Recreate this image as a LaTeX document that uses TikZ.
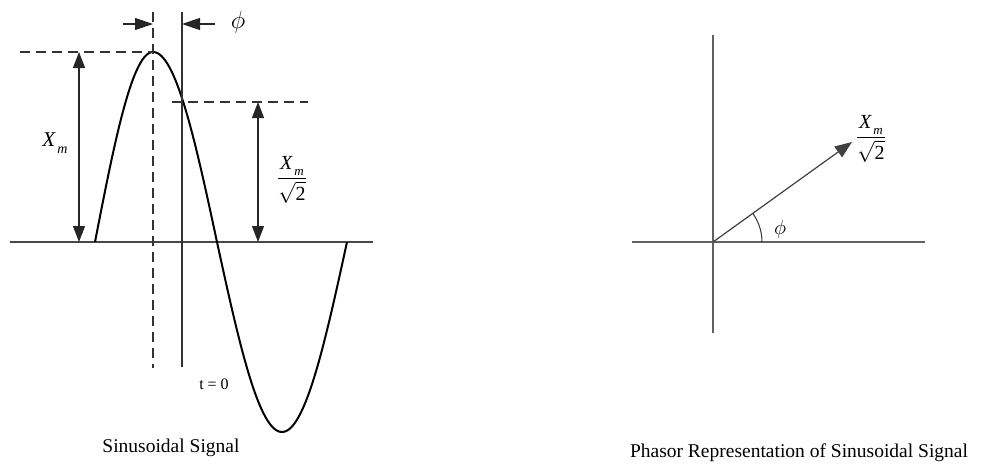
\documentclass[tikz,border=0pt]{standalone}
\usepackage{fontspec}
\usepackage{amsmath}
\setmainfont{Liberation Serif}
\usetikzlibrary{arrows.meta}
\newcommand{\xmsub}{\textit{X}\kern1.5pt\raisebox{-6pt}{\fontsize{13}{13}\selectfont\textit{m}}}
\begin{document}
\begin{tikzpicture}[x=1pt,y=-1pt,
  axis/.style={line width=1.5pt, draw=black!72},
  guide/.style={line width=1.5pt, draw=black!80, dash pattern=on 10pt off 6pt},
  thin/.style={line width=1.3pt, draw=black!80},
  wave/.style={line width=2pt, draw=black},
  dim/.style={line width=1.2pt, draw=black!85, {Triangle[length=16pt,width=12pt]}-{Triangle[length=16pt,width=12pt]}},
  pointer/.style={line width=1.2pt, draw=black!85, -{Triangle[length=18pt,width=12pt]}},
  lbl/.style={inner sep=0pt},
]
\useasboundingbox[fill=white] (0,0) rectangle (982,466);
% ---------- left: sinusoidal signal ----------
\coordinate (axL) at (10,242);
\coordinate (axR) at (373,242);
\draw[axis] (axL) -- (axR);
\draw[wave] plot[domain=0:90,samples=40] ({95+\x/90*58},{242-190*sin(\x)})
  -- plot[domain=90:180,samples=40] ({153+(\x-90)/90*64},{242-190*sin(\x)})
  -- plot[domain=0:180,samples=80] ({217+\x/180*130},{242+190*sin(\x)});
% dashed vertical through the peak, solid line at t=0
\coordinate (pkTop) at (153,12);
\coordinate (pkBot) at (153,368);
\draw[guide] (pkTop) -- (pkBot);
\coordinate (t0Top) at (182,12);
\coordinate (t0Bot) at (182,367);
\draw[thin] (t0Top) -- (t0Bot);
% phase arrows
\coordinate (aLs) at (123,24);
\coordinate (aLe) at (153,24);
\coordinate (aRs) at (215,24);
\coordinate (aRe) at (182,24);
\draw[pointer] (aLs) -- (aLe);
\draw[pointer] (aRs) -- (aRe);
\node[lbl, font=\fontsize{24}{24}\selectfont] (phiTop) at (238,22) {$\phi$};
% peak level
\coordinate (pkL) at (20,52);
\coordinate (pk) at (153,52);
\draw[guide] (pkL) -- (pk);
\coordinate (dA1) at (79,52);
\coordinate (dA2) at (79,242);
\draw[dim] (dA1) -- (dA2);
\node[lbl, font=\fontsize{21}{21}\selectfont] (xm) at (55,143) {\textit{X}\kern1.5pt\raisebox{-7pt}{\fontsize{14}{14}\selectfont\textit{m}}};
% rms level
\coordinate (rmsL) at (172,102);
\coordinate (rmsR) at (308,102);
\draw[guide] (rmsL) -- (rmsR);
\coordinate (dB1) at (258,102);
\coordinate (dB2) at (258,242);
\draw[dim] (dB1) -- (dB2);
\node[lbl, font=\fontsize{20}{20}\selectfont] (rmsLbl) at (292,180)
  {$\dfrac{\text{\xmsub}}{\sqrt{\text{2}}}$};
\node[lbl, font=\fontsize{16}{16}\selectfont] (t0) at (214,384) {t = 0};
\node[lbl, font=\fontsize{19.5}{19.5}\selectfont] (capL) at (171,448) {Sinusoidal Signal};
% ---------- right: phasor ----------
\coordinate (o) at (713,242);
\coordinate (hL) at (632,242);
\coordinate (hR) at (925,242);
\coordinate (vT) at (713,35);
\coordinate (vB) at (713,333);
\draw[axis, draw=black!62] (hL) -- (hR);
\draw[axis, draw=black!62] (vT) -- (vB);
\coordinate (tip) at (852,142);
\draw[pointer, draw=black!75, -{Triangle[length=17pt,width=13pt]}] (o) -- (tip);
\draw[line width=1pt, draw=black!80] (762,242) arc[start angle=0, end angle=35.7, radius=49pt];
\node[lbl, font=\fontsize{21}{21}\selectfont] (phiR) at (780,229) {$\phi$};
\node[lbl, font=\fontsize{20}{20}\selectfont] (phLbl) at (871,139)
  {$\dfrac{\text{\xmsub}}{\sqrt{\text{2}}}$};
\node[lbl, font=\fontsize{19.5}{19.5}\selectfont] (capR) at (799,453) {Phasor Representation of Sinusoidal Signal};
\end{tikzpicture}
\end{document}
